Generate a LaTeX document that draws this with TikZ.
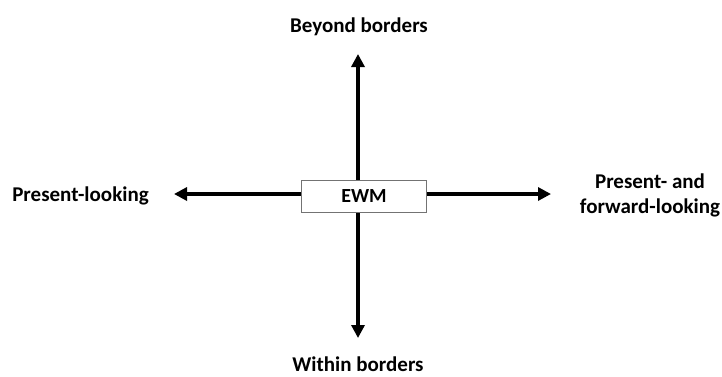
\documentclass[tikz,border=0pt]{standalone}
\usepackage{fontspec}
\setmainfont{Carlito}
\usetikzlibrary{arrows.meta}
\begin{document}
\begin{tikzpicture}[x=1pt,y=1pt,
  lbl/.style={font=\fontsize{21}{25}\selectfont\bfseries, align=center, inner sep=0pt, anchor=base},
  axis/.style={line width=3.2pt, -{Triangle[length=13pt,width=13pt]}},
  ewmbox/.style={draw=black!55, line width=1pt, fill=white, minimum width=125pt, minimum height=32pt, inner sep=0pt, font=\fontsize{20}{24}\selectfont\bfseries}]
\useasboundingbox (0,0) rectangle (722,376);
\coordinate (c) at (358,182);
\coordinate (up) at (358,322);
\coordinate (dn) at (358,38);
\coordinate (lf) at (174,182);
\coordinate (rt) at (551,182);
\draw[axis] (c) -- (up);
\draw[axis] (c) -- (dn);
\draw[axis] (c) -- (lf);
\draw[axis] (c) -- (rt);
\node[ewmbox] (ewm) at (364,180) {EWM};
\node[lbl] (beyond) at (359,343.5) {Beyond borders};
\node[lbl] (within) at (358,5) {Within borders};
\node[lbl] (present) at (80.5,174.5) {Present-looking};
\node[lbl] (forward) at (650,162.7) {Present- and\\forward-looking};
\end{tikzpicture}
\end{document}
